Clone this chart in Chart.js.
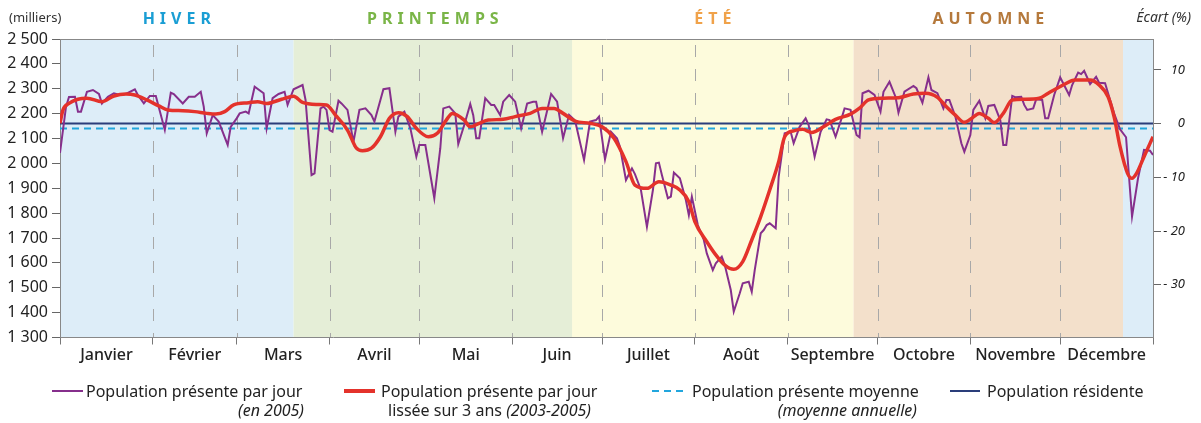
<!DOCTYPE html>
<html>
<head>
<meta charset="utf-8">
<script src="https://cdn.jsdelivr.net/npm/chart.js@4.4.1/dist/chart.umd.min.js"></script>
<style>
  body { margin: 0; background: #fff; font-family: "Noto Sans", sans-serif; }
  #wrap { position: relative; width: 1201px; height: 423px; overflow: hidden; }
  #c { position: absolute; left: 0; top: 0; }
  .lg { position: absolute; font-size: 16px; line-height: 20px; color: #222; white-space: nowrap; }
  #sw { position: absolute; left: 0; top: 0; }
</style>
</head>
<body>
<div id="wrap">
  <canvas id="c" width="1201" height="423"></canvas>
  <svg id="sw" width="1201" height="423">
    <line x1="52" y1="391" x2="83" y2="391" stroke="#862f8c" stroke-width="2"/>
    <line x1="344" y1="391" x2="375" y2="391" stroke="#e4322b" stroke-width="4"/>
    <line x1="652" y1="391" x2="685" y2="391" stroke="#22a6dd" stroke-width="2" stroke-dasharray="7,5"/>
    <line x1="950" y1="391" x2="980" y2="391" stroke="#2a3d7a" stroke-width="2"/>
  </svg>
  <div class="lg" style="left:86px;top:381px">Population présente par jour</div>
  <div class="lg" style="right:897px;top:400px"><i>(en 2005)</i></div>
  <div class="lg" style="left:381px;top:381px">Population présente par jour</div>
  <div class="lg" style="left:388px;top:400px">lissée sur 3 ans <i>(2003-2005)</i></div>
  <div class="lg" style="left:692px;top:381px">Population présente moyenne</div>
  <div class="lg" style="right:284px;top:400px"><i>(moyenne annuelle)</i></div>
  <div class="lg" style="left:987px;top:381px">Population résidente</div>
</div>
<script>
// jour de l'année (0 = 1er janvier) et population en milliers
const monthStarts = [0, 31, 59, 90, 120, 151, 181, 212, 243, 273, 304, 334, 365];
const monthNames = ["Janvier", "Février", "Mars", "Avril", "Mai", "Juin",
  "Juillet", "Août", "Septembre", "Octobre", "Novembre", "Décembre"];

const seasonStarts = [0, 78, 171, 265, 355, 365];
const seasonNames = ["HIVER", "PRINTEMPS", "ÉTÉ", "AUTOMNE", ""];
const seasonBg = ["#ddedf8", "#e5eed7", "#fdfbdc", "#f3e0cb", "#ddedf8"];
const seasonInk = ["#1a9ed4", "#7ab547", "#f0a24a", "#b5793c", ""];

const residentPop = 2160;
const meanPop = 2140;
const rightTicks = [10, 0, -10, -20, -30];

// Population présente par jour (en 2005)
const dailyDays = [
  0, 2, 3, 5, 6, 7, 9, 11, 13, 14, 16, 18, 20, 22, 25, 26, 28, 30,
  32, 35, 37, 38, 41, 43, 45, 47, 48, 49, 51, 53, 56, 57,
  59, 60, 62, 63, 65, 68, 69, 71, 73, 75, 76, 78, 81, 82, 84, 85, 87, 88, 89,
  90, 91, 93, 94, 96, 98, 100, 102, 104, 105, 107, 108, 110, 111, 112, 113, 115, 117, 119,
  120, 122, 125, 127, 128, 130, 132, 133, 135, 137, 138, 139, 140, 142, 144, 145, 147, 148, 150,
  152, 154, 156, 158, 159, 161, 164, 166, 168, 170, 172, 175, 177, 179, 180,
  182, 184, 186, 187, 189, 191, 192, 194, 196, 198, 199, 200, 201, 203, 204, 205, 207, 209, 210, 211,
  213, 215, 216, 218, 219, 221, 222, 224, 225, 227, 228, 230, 231, 232, 234, 235, 236, 237, 239, 240, 242,
  244, 245, 247, 249, 250, 252, 254, 256, 257, 259, 261, 262, 264, 266, 267, 268, 270, 272,
  274, 275, 277, 279, 280, 282, 285, 286, 288, 290, 291, 293, 295, 296, 297, 299, 301, 302,
  304, 305, 307, 308, 309, 310, 312, 314, 315, 316, 318, 319, 321, 322, 323, 325, 326, 328, 329, 330, 332,
  334, 335, 337, 338, 340, 341, 342, 344, 346, 347, 349, 350, 352, 354, 356, 358, 360, 362, 364, 365
];
const dailyValues = [
  2042, 2227, 2267, 2268, 2208, 2208, 2288, 2295, 2279, 2241, 2268, 2282, 2275, 2279, 2298, 2275, 2241, 2271,
  2271, 2134, 2284, 2279, 2241, 2268, 2268, 2288, 2228, 2121, 2194, 2168, 2074, 2147,
  2181, 2201, 2208, 2201, 2308, 2282, 2141, 2262, 2279, 2288, 2235, 2298, 2315, 2255, 1953, 1960, 2221, 2228, 2215,
  2134, 2127, 2252, 2241, 2215, 2087, 2215, 2221, 2194, 2168, 2255, 2298, 2302, 2215, 2127, 2188, 2208, 2141, 2027,
  2074, 2074, 1860, 2061, 2221, 2228, 2201, 2078, 2154, 2239, 2194, 2101, 2101, 2262, 2235, 2235, 2194, 2248, 2275,
  2248, 2141, 2241, 2248, 2248, 2127, 2279, 2248, 2101, 2195, 2172, 2014, 2168, 2174, 2188,
  2016, 2127, 2101, 2067, 1933, 1980, 1957, 1893, 1745, 1893, 2000, 2003, 1953, 1860, 1866, 1963, 1940, 1853, 1792, 1866,
  1752, 1692, 1638, 1571, 1598, 1625, 1591, 1491, 1404, 1478, 1518, 1524, 1484, 1571, 1719, 1732, 1752, 1759, 1739, 1946, 2121,
  2127, 2081, 2147, 2181, 2154, 2027, 2127, 2177, 2174, 2107, 2181, 2221, 2215, 2114, 2105, 2282, 2292, 2275,
  2208, 2288, 2328, 2268, 2204, 2288, 2311, 2302, 2244, 2346, 2295, 2282, 2221, 2255, 2255, 2188, 2081, 2047,
  2114, 2215, 2252, 2215, 2181, 2231, 2235, 2174, 2074, 2074, 2271, 2266, 2268, 2235, 2215, 2221, 2258, 2255, 2181, 2181, 2275,
  2346, 2322, 2275, 2315, 2365, 2359, 2372, 2319, 2348, 2324, 2322, 2282, 2201, 2137, 2105, 1786, 1940, 2054, 2051, 2034
];

// Population présente par jour lissée sur 3 ans (2003-2005)
const smoothDays = [
  0, 1, 3, 6, 9, 14, 18, 22, 25, 29, 33, 36, 41, 45, 49, 52, 55, 58, 63, 66, 69, 74, 78, 81, 86,
  89, 92, 96, 99, 101, 104, 107, 110, 113, 116, 119, 123, 126, 129, 131, 135, 137, 140, 143, 148,
  152, 157, 161, 165, 168, 172, 177, 181, 185, 189, 192, 196, 200, 204, 207, 210, 212, 216, 219, 222,
  225, 228, 231, 234, 237, 240, 242, 245, 248, 251, 255, 259, 264, 267, 270, 275, 280, 285, 289, 293,
  296, 299, 302, 304, 307, 310, 312, 315, 318, 322, 327, 330, 335, 339, 344, 347, 350, 352, 354, 356.5,
  358, 359.5, 362, 365
];
const smoothValues = [
  2161, 2215, 2241, 2258, 2262, 2248, 2271, 2279, 2275, 2255, 2231, 2215, 2212, 2208, 2201, 2198, 2208, 2235, 2244, 2248, 2241, 2258, 2270, 2245, 2237,
  2235, 2194, 2134, 2061, 2051, 2061, 2107, 2181, 2204, 2188, 2141, 2107, 2121, 2174, 2201, 2174, 2147, 2161, 2174, 2177,
  2188, 2201, 2221, 2221, 2201, 2170, 2161, 2147, 2101, 2007, 1913, 1900, 1926, 1913, 1893, 1846, 1766, 1685, 1632, 1591,
  1574, 1605, 1692, 1786, 1893, 2007, 2107, 2131, 2137, 2124, 2147, 2177, 2198, 2222, 2255, 2262, 2264, 2279, 2282, 2266,
  2228, 2194, 2165, 2177, 2201, 2181, 2164, 2201, 2255, 2258, 2262, 2282, 2315, 2335, 2335, 2315, 2268, 2188, 2067, 1960,
  1940, 1960, 2027, 2107
];

const toPoints = (xs, ys) => xs.map((x, i) => ({ x: x, y: ys[i] }));
const isBoundary = (v) => monthStarts.indexOf(v) !== -1;

// fonds de saison, pointillés des mois, titres
const decor = {
  id: "decor",
  beforeDraw(chart) {
    const { ctx, chartArea: a, scales: { x } } = chart;
    ctx.save();
    for (let i = 0; i < seasonStarts.length - 1; i++) {
      const x0 = x.getPixelForValue(seasonStarts[i]);
      const x1 = x.getPixelForValue(seasonStarts[i + 1]);
      ctx.fillStyle = seasonBg[i];
      ctx.fillRect(x0, a.top, x1 - x0, a.bottom - a.top);
    }
    ctx.strokeStyle = "#a8a8a8";
    ctx.lineWidth = 1;
    ctx.setLineDash([12, 12]);
    monthStarts.slice(1, -1).forEach((m) => {
      const px = Math.round(x.getPixelForValue(m)) + 0.5;
      ctx.beginPath();
      ctx.moveTo(px, a.top + 6);
      ctx.lineTo(px, a.bottom);
      ctx.stroke();
    });
    ctx.restore();
  },
  afterDraw(chart) {
    const { ctx, chartArea: a, scales: { x } } = chart;
    ctx.save();
    ctx.strokeStyle = "#888";
    ctx.lineWidth = 1;
    ctx.beginPath();
    ctx.moveTo(a.left, a.top + 0.5);
    ctx.lineTo(a.right, a.top + 0.5);
    ctx.stroke();

    ctx.textBaseline = "middle";
    ctx.font = 'bold 16px "Noto Sans"';
    const sp = 5;
    ctx.letterSpacing = sp + "px";
    ctx.textAlign = "center";
    for (let i = 0; i < seasonNames.length; i++) {
      if (!seasonNames[i]) continue;
      const cx = (x.getPixelForValue(seasonStarts[i]) + x.getPixelForValue(seasonStarts[i + 1])) / 2;
      ctx.fillStyle = seasonInk[i];
      ctx.fillText(seasonNames[i], cx + sp / 2, 19);
    }
    ctx.letterSpacing = "0px";
    ctx.fillStyle = "#333";
    ctx.font = '13px "Noto Sans"';
    ctx.textAlign = "left";
    ctx.fillText("(milliers)", 9, 18);
    ctx.font = 'italic 14px "Noto Sans"';
    ctx.textAlign = "right";
    ctx.fillText("Écart (%)", 1191, 18);
    ctx.restore();
  }
};

new Chart(document.getElementById("c"), {
  type: "line",
  data: {
    datasets: [
      {
        label: "Population présente par jour lissée sur 3 ans (2003-2005)",
        data: toPoints(smoothDays, smoothValues),
        borderColor: "#e4322b",
        borderWidth: 3.5,
        pointRadius: 0,
        tension: 0.4,
        cubicInterpolationMode: "monotone",
        yAxisID: "y"
      },
      {
        label: "Population présente par jour (en 2005)",
        data: toPoints(dailyDays, dailyValues),
        borderColor: "#862f8c",
        borderWidth: 2,
        pointRadius: 0,
        tension: 0,
        yAxisID: "y"
      },
      {
        label: "Population résidente",
        data: [{ x: 0, y: residentPop }, { x: 365, y: residentPop }],
        borderColor: "#2a3d7a",
        borderWidth: 2,
        pointRadius: 0,
        yAxisID: "y"
      },
      {
        label: "Population présente moyenne (moyenne annuelle)",
        data: [{ x: 0, y: meanPop }, { x: 365, y: meanPop }],
        borderColor: "#22a6dd",
        borderWidth: 2,
        borderDash: [7, 5],
        pointRadius: 0,
        yAxisID: "y"
      }
    ]
  },
  options: {
    responsive: false,
    animation: false,
    devicePixelRatio: 1,
    layout: { padding: { top: 39, right: 16, bottom: 57, left: 0 } },
    plugins: { legend: { display: false }, tooltip: { enabled: false } },
    scales: {
      x: {
        type: "linear",
        min: 0,
        max: 365,
        afterBuildTicks(scale) {
          const t = monthStarts.map((v) => ({ value: v }));
          for (let i = 0; i < monthNames.length; i++) {
            t.push({ value: (monthStarts[i] + monthStarts[i + 1]) / 2 });
          }
          t.sort((p, q) => p.value - q.value);
          scale.ticks = t;
        },
        afterFit(scale) { scale.height = 28.5; },
        ticks: {
          autoSkip: false,
          maxRotation: 0,
          padding: 1,
          color: "#222",
          font: { family: "Noto Sans", size: 16, weight: "500" },
          callback(value) {
            for (let i = 0; i < monthNames.length; i++) {
              if ((monthStarts[i] + monthStarts[i + 1]) / 2 === value) return monthNames[i];
            }
            return "";
          }
        },
        grid: {
          drawOnChartArea: false,
          tickLength: 7,
          tickColor: (c) => (c.tick && isBoundary(c.tick.value) ? "#777" : "rgba(0,0,0,0)")
        },
        border: { color: "#888", width: 1 }
      },
      y: {
        position: "left",
        min: 1300,
        max: 2500,
        afterFit(scale) { scale.width = 60; },
        ticks: {
          stepSize: 100,
          padding: 4,
          color: "#222",
          font: { family: "Noto Sans", size: 16 },
          callback(v) {
            return v >= 1000 ? Math.floor(v / 1000) + " " + String(v % 1000).padStart(3, "0") : v;
          }
        },
        grid: { drawOnChartArea: false, tickLength: 8, tickColor: "#666" },
        border: { color: "#888", width: 1 }
      },
      y1: {
        position: "right",
        min: (1300 / residentPop - 1) * 100,
        max: (2500 / residentPop - 1) * 100,
        afterBuildTicks(scale) { scale.ticks = rightTicks.map((v) => ({ value: v })); },
        afterFit(scale) { scale.width = 32; },
        ticks: {
          padding: 4,
          crossAlign: "far",
          color: "#222",
          font: { family: "Noto Sans", size: 13, style: "italic" },
          callback(v) { return v < 0 ? "- " + (-v) : String(v); }
        },
        grid: { drawOnChartArea: false, tickLength: 8, tickColor: "#666" },
        border: { color: "#888", width: 1 }
      }
    }
  },
  plugins: [decor]
});
</script>
</body>
</html>
